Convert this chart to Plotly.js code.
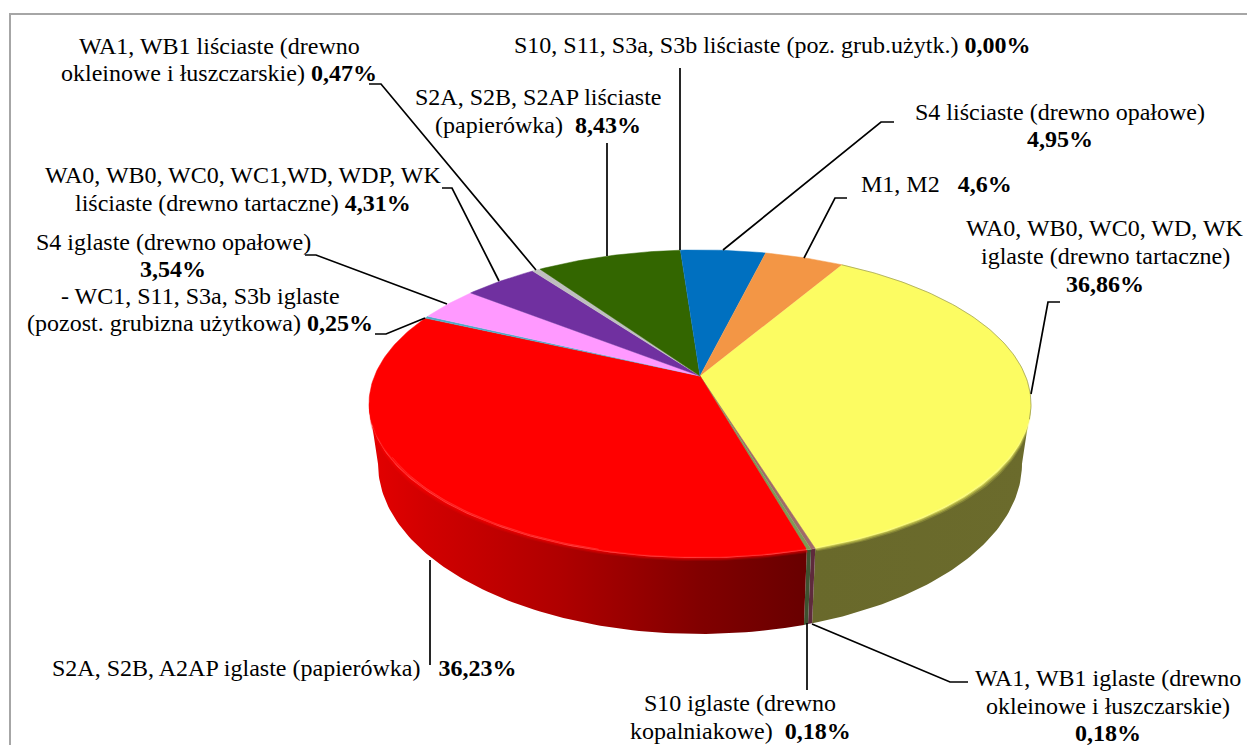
<!DOCTYPE html>
<html>
<head>
<meta charset="utf-8">
<script src="https://cdn.plot.ly/plotly-3.0.1.min.js"></script>
<style>html,body{margin:0;padding:0;background:#fff}#chart{width:1247px;height:745px}</style>
</head>
<body>
<div id="chart"></div>
<script>
// ---- data (clockwise from the yellow slice) ----
const sliceNames = [
  "WA0, WB0, WC0, WD, WK iglaste (drewno tartaczne)",
  "WA1, WB1 iglaste (drewno okleinowe i łuszczarskie)",
  "S10 iglaste (drewno kopalniakowe)",
  "S2A, S2B, A2AP iglaste (papierówka)",
  "- WC1, S11, S3a, S3b iglaste (pozost. grubizna użytkowa)",
  "S4 iglaste (drewno opałowe)",
  "WA0, WB0, WC0, WC1,WD, WDP, WK liściaste (drewno tartaczne)",
  "WA1, WB1 liściaste (drewno okleinowe i łuszczarskie)",
  "S2A, S2B, S2AP liściaste (papierówka)",
  "S10, S11, S3a, S3b liściaste (poz. grub.użytk.)",
  "S4 liściaste (drewno opałowe)",
  "M1, M2"
];
const sliceValues = [36.86, 0.18, 0.18, 36.23, 0.25, 3.54, 4.31, 0.47, 8.43, 0.00, 4.95, 4.6];
const topColors = ["#FCFC62","#A06A6A","#7F9A55","#FF0000","#4BACC6","#FF99FF","#7030A0","#BFBFBF","#336600","#4F81BD","#0070C0","#F39645"];
const labelLines = [
  "WA0, WB0, WC0, WD, WK", "iglaste (drewno tartaczne)", "<b>36,86%</b>",
  "WA1, WB1 iglaste (drewno", "okleinowe i łuszczarskie)", "<b>0,18%</b>",
  "S10 iglaste (drewno", "kopalniakowe)  <b>0,18%</b>",
  "S2A, S2B, A2AP iglaste (papierówka)   <b>36,23%</b>",
  "- WC1, S11, S3a, S3b iglaste", "(pozost. grubizna użytkowa) <b>0,25%</b>",
  "S4 iglaste (drewno opałowe)", "<b>3,54%</b>",
  "WA0, WB0, WC0, WC1,WD, WDP, WK", "liściaste (drewno tartaczne) <b>4,31%</b>",
  "WA1, WB1 liściaste (drewno", "okleinowe i łuszczarskie) <b>0,47%</b>",
  "S2A, S2B, S2AP liściaste", "(papierówka)  <b>8,43%</b>",
  "S10, S11, S3a, S3b liściaste (poz. grub.użytk.) <b>0,00%</b>",
  "S4 liściaste (drewno opałowe)", "<b>4,95%</b>",
  "M1, M2   <b>4,6%</b>"
];
const labelLineX = [1105,1105,1105, 1108,1108,1108, 740,740, 284, 200,200, 173,173, 243,243, 219,219, 538,538, 772, 1060,1060, 936];
const labelLineY = [228,256,284, 678,706,733, 703,731, 668, 296,323, 242,269, 175,203, 46,73, 97,125, 45, 112,139, 184];
const leaders = [
  [[1060,302],[1048,302],[1031,394]],
  [[968,682],[950,682],[812,624]],
  [[807,623],[807,690]],
  [[430,560],[430,665]],
  [[375,334],[386,334],[425,318]],
  [[305,255],[316,255],[447,304]],
  [[442,188],[452,188],[499,281]],
  [[369,84],[381,84],[536,270]],
  [[607,143],[607,256]],
  [[680,68],[680,250]],
  [[894,122],[881,122],[723,250]],
  [[847,198],[835,198],[804,258]]
];
const yellowWall = ["#6B6B2C", "#69692B"];
const redWall = [[0,"#E40000"],[0.14,"#D00000"],[0.43,"#B00000"],[0.75,"#820000"],[1,"#680000"]];
const thinWalls = {1:"#5E2A3C", 2:"#3E5230"};

// ---- perspective of the disc ----
const startAngle = 30.3, persp = 0.182;
function rimPoint(deg, a, b, yc, s) {
  const t = deg * Math.PI / 180, u = Math.sin(t), v = Math.cos(t), d = 1 + persp * v;
  return [700 + s * a * u / d, yc - s * b * v / d];
}
const topRim = (deg, s = 1) => rimPoint(deg, 325.5, 149, 376, s);
const botRim = (deg) => rimPoint(deg, 316.6, 164.4, 433, 1);
const silhouette = 100.5;
const total = sliceValues.reduce((p, c) => p + c, 0);
const bounds = [startAngle];
sliceValues.forEach(v => bounds.push(bounds[bounds.length - 1] + v / total * 360));

function arc(fn, a0, a1) {
  const pts = [], n = Math.max(2, Math.ceil(Math.abs(a1 - a0)));
  for (let i = 0; i <= n; i++) pts.push(fn(a0 + (a1 - a0) * i / n));
  return pts;
}
const traces = [];
function poly(pts, name, color, extra) {
  traces.push(Object.assign({
    type: "scatter", mode: "lines", name: name,
    x: pts.map(p => p[0]), y: pts.map(p => p[1]),
    fill: "toself", fillcolor: color,
    line: {color: color, width: 0.5}, hoverinfo: "name", showlegend: false
  }, extra || {}));
}
// side walls
sliceValues.forEach((v, i) => {
  if (i > 3) return;
  let a0 = bounds[i], a1 = bounds[i + 1];
  if (i === 0) a0 = silhouette;
  if (i === 3) a1 = 360 - silhouette;
  const pts = arc(topRim, a0, a1).concat(arc(botRim, a1, a0));
  if (i === 0) poly(pts, sliceNames[i], yellowWall[0], {line: {width: 0, color: yellowWall[0]}, fillgradient: {type: "horizontal", colorscale: [[0, yellowWall[1]], [1, yellowWall[0]]]}});
  else if (i === 3) poly(pts, sliceNames[i], "#B00000", {line: {width: 0, color: "#B00000"}, fillgradient: {type: "horizontal", colorscale: redWall}});
  else poly(pts, sliceNames[i], thinWalls[i], {line: {width: 0, color: thinWalls[i]}});
});
// soft bevel on the front rim: translucent copies of the top face, tapering away at the silhouette
const frontness = d => Math.max(0, Math.min(1, Math.min(d - 100, 260 - d) / 30));
const bevel = [[1.016, .18], [1.010, .3], [1.004, .45], [0.998, .6]];
[0, 3].forEach(i => {
  const a0 = i === 0 ? 100 : bounds[i], a1 = i === 0 ? bounds[i + 1] : 260;
  bevel.forEach(b => {
    poly([[700, 376]].concat(arc(d => topRim(d, 1 + (b[0] - 1) * frontness(d)), a0, a1)), sliceNames[i], topColors[i], {opacity: b[1], line: {width: 0, color: topColors[i]}});
  });
});
// top face
sliceValues.forEach((v, i) => {
  if (v <= 0) return;
  const pts = [[700, 376]].concat(arc(d => topRim(d, (i === 0 || i === 3) ? 1 - 0.008 * frontness(d) : 1), bounds[i], bounds[i + 1]));
  poly(pts, sliceNames[i], topColors[i]);
});
// thin highlight and edge lines along the rim
const hl = arc(d => topRim(d, 0.992), 195, 240);
traces.push({type: "scatter", mode: "lines", x: hl.map(p => p[0]), y: hl.map(p => p[1]), line: {color: "rgba(255,110,110,.35)", width: 1}, hoverinfo: "skip", showlegend: false});
const rimEdge = arc(d => topRim(d), bounds[0], 106);
traces.push({type: "scatter", mode: "lines", x: rimEdge.map(p => p[0]), y: rimEdge.map(p => p[1]), line: {color: "rgba(120,120,70,.55)", width: 1}, hoverinfo: "skip", showlegend: false});

const shapes = [{type: "rect", xref: "x", yref: "y", x0: 10, y0: 14, x1: 1400, y1: 900, line: {color: "#A6A6A6", width: 2}, layer: "below"}];
leaders.forEach(l => {
  const path = "M" + l.map(p => p[0] + "," + p[1]).join("L");
  shapes.push({type: "path", xref: "x", yref: "y", path: path, line: {color: "#000", width: 1.7}});
});
const annotations = labelLines.map((t, i) => ({
  text: t.replace(/ {2,}/g, m => "\u00a0".repeat(m.length)),
  x: labelLineX[i], y: labelLineY[i], xref: "x", yref: "y",
  xanchor: "center", yanchor: "middle", align: "center", showarrow: false,
  font: {family: "'Liberation Serif', serif", size: 24, color: "#000"}
}));
Plotly.newPlot("chart", traces, {
  width: 1247, height: 745,
  margin: {l: 0, r: 0, t: 0, b: 0},
  paper_bgcolor: "#fff", plot_bgcolor: "#fff", showlegend: false,
  xaxis: {range: [0, 1247], visible: false, fixedrange: true},
  yaxis: {range: [745, 0], visible: false, fixedrange: true},
  shapes: shapes, annotations: annotations
}, {displayModeBar: false, staticPlot: true});
</script>
</body>
</html>
